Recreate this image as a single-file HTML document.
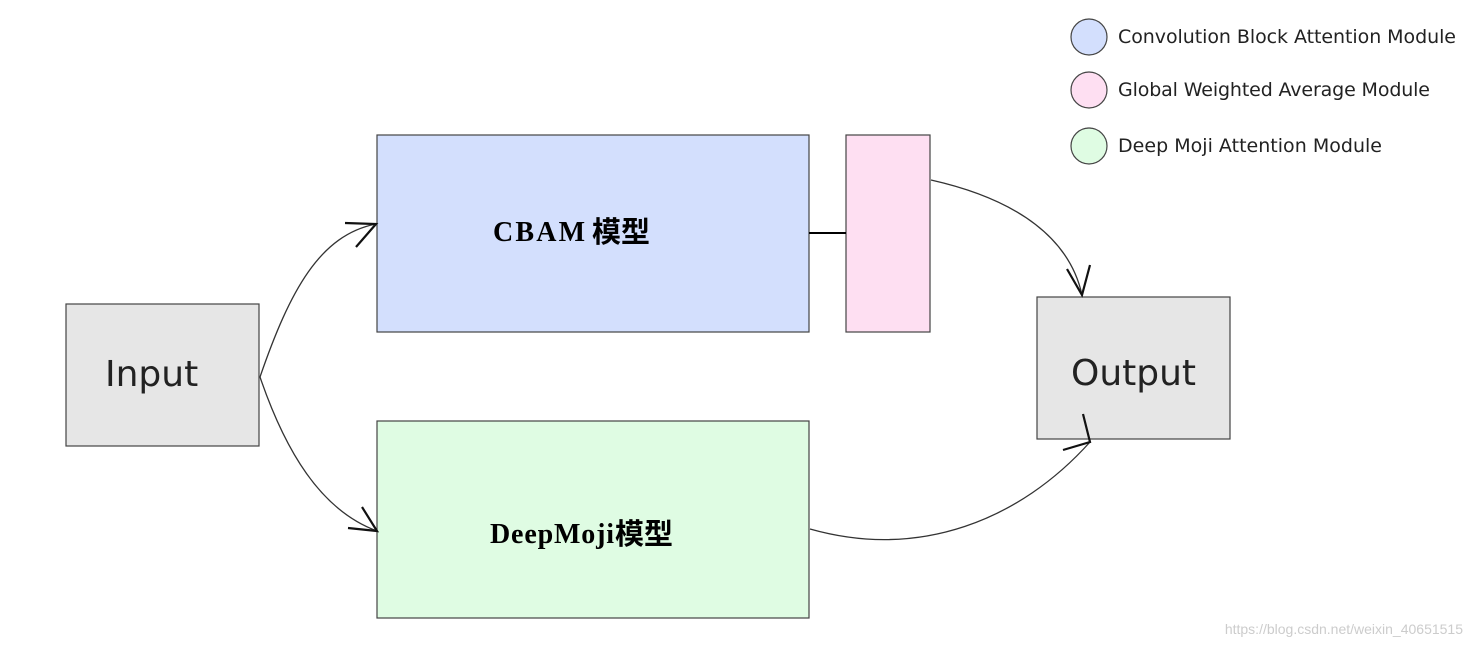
<!DOCTYPE html>
<html><head><meta charset="utf-8"><style>
body{margin:0;background:#fff;width:1472px;height:647px;overflow:hidden}
</style></head><body>
<svg width="1472" height="647" xmlns="http://www.w3.org/2000/svg" style="position:absolute;left:0;top:0">
<g stroke="#444" stroke-width="1.2">
<rect x="66" y="304" width="193" height="142" fill="#e6e6e6"/>
<rect x="377" y="135" width="432" height="197" fill="#d3dffd"/>
<rect x="846" y="135" width="84" height="197" fill="#fedff2"/>
<rect x="377" y="421" width="432" height="197" fill="#dffce3"/>
<rect x="1037" y="297" width="193" height="142" fill="#e6e6e6"/>
<circle cx="1089" cy="37" r="18" fill="#d3dffd"/>
<circle cx="1089" cy="90" r="18" fill="#fedff2"/>
<circle cx="1089" cy="146" r="18" fill="#dffce3"/>
</g>
<g fill="none" stroke="#333" stroke-width="1.3">
<path d="M260 377 C290 290 320 235 376 224"/>
<path d="M260 377 C285 450 320 510 377 531"/>
<path d="M809 233 H846" stroke="#000" stroke-width="2"/>
<path d="M931 180 C1020 200 1070 240 1082 295"/>
<path d="M810 529 C920 560 1020 520 1090 442"/>
</g>
<g fill="none" stroke="#111" stroke-width="2.2">
<path d="M345 223 L376 224 L356 247"/>
<path d="M362 507 L377 531 L348 528"/>
<path d="M1067 269 L1082 295 L1090 265"/>
<path d="M1063 450 L1090 442 L1083 414"/>
</g>
<g font-family="'DejaVu Sans','Liberation Sans',sans-serif" fill="#222">
<text x="1118" y="43" font-size="19" textLength="338">Convolution Block Attention Module</text>
<text x="1118" y="96" font-size="19" textLength="312">Global Weighted Average Module</text>
<text x="1118" y="152" font-size="19" textLength="264">Deep Moji Attention Module</text>
<text x="105" y="386" font-size="36">Input</text>
<text x="1071" y="385" font-size="36">Output</text>
</g>
<g font-weight="bold" fill="#000">
<text x="493" y="241" font-family="'Liberation Serif',serif" font-size="28" textLength="92">CBAM</text>
<text x="592" y="242" font-family="'Noto Sans CJK SC',sans-serif" font-size="29">模型</text>
<text x="490" y="543" font-family="'Liberation Serif',serif" font-size="28" textLength="124">DeepMoji</text>
<text x="615" y="544" font-family="'Noto Sans CJK SC',sans-serif" font-size="29">模型</text>
</g>
<text x="1463" y="634" text-anchor="end" font-family="'Liberation Sans',sans-serif" font-size="14" fill="#ccc">https://blog.csdn.net/weixin_40651515</text>
</svg>
</body></html>
